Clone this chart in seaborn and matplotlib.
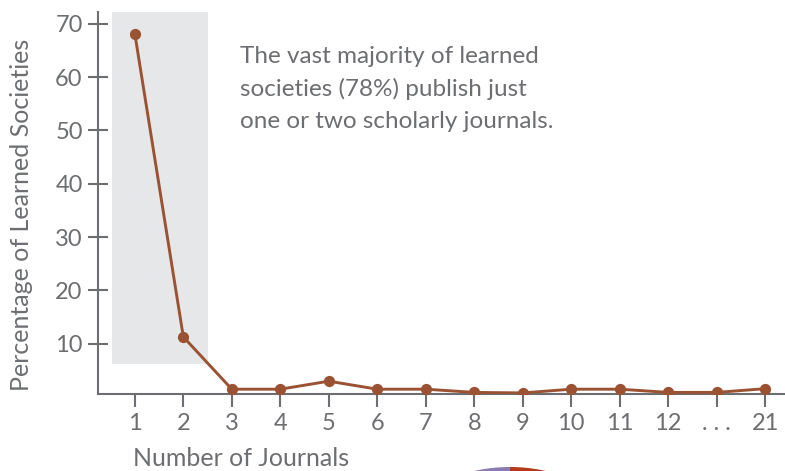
import matplotlib
matplotlib.use("Agg")
import matplotlib.pyplot as plt
import seaborn as sns
import pandas as pd
from matplotlib.patches import Wedge, Rectangle

categories = ["1", "2", "3", "4", "5", "6", "7", "8", "9", "10", "11", "12", ". . .", "21"]
percentages = [68.1, 11.3, 1.5, 1.5, 3.0, 1.5, 1.5, 0.9, 0.8, 1.5, 1.5, 0.9, 0.9, 1.6]
annotation = "The vast majority of learned\nsocieties (78%) publish just\none or two scholarly journals."
x_label = "Number of Journals"
y_label = "Percentage of Learned Societies"
y_ticks = [10, 20, 30, 40, 50, 60, 70]

sns.set_theme(style="white")
plt.rcParams["font.family"] = ["Lato", "DejaVu Sans"]

GREY = "#6d6e71"
BROWN = "#9a5232"

df = pd.DataFrame({"journals": categories, "pct": percentages})

fig = plt.figure(figsize=(7.85, 4.71), dpi=100)
W, H = 785, 471
ax = fig.add_axes([98 / W, 1 - 394 / H, 1 - 98 / W, (394 - 12) / H])

# shaded region behind first two categories
ax.add_patch(Rectangle((-0.47, 6.25), 1.98, 72.2 - 6.25, facecolor="#e6e7e8",
                       edgecolor="none", zorder=0))

sns.pointplot(data=df, x="journals", y="pct", order=categories, color=BROWN,
              markers="o", linestyles="-", ax=ax, markersize=6.5,
              linewidth=2.1, zorder=3)

ax.set_xlim(-0.76, 13.41)
ax.set_ylim(0.6, 72.2)
ax.set_yticks(y_ticks)
ax.set_yticklabels([str(t) for t in y_ticks])
ax.set_xticks(range(len(categories)))
ax.set_xticklabels(categories)

for s in ["top", "right"]:
    ax.spines[s].set_visible(False)
for s in ["left", "bottom"]:
    ax.spines[s].set_color(GREY)
    ax.spines[s].set_linewidth(1.5)

ax.tick_params(axis="y", direction="inout", length=14, width=1.5, color=GREY,
               labelcolor=GREY, labelsize=17, pad=4, left=True)
ax.tick_params(axis="x", direction="out", length=9, width=1.5, color=GREY,
               labelcolor=GREY, labelsize=17, pad=5, bottom=True)
ax.set_xlabel("")
ax.set_ylabel("")
ax.grid(False)
ax.set_facecolor("none")

fig.text(22 / W, 1 - 215 / H, y_label, rotation=90, ha="center", va="center",
         color=GREY, fontsize=18)
fig.text(133 / W, 1 - 459 / H, x_label, ha="left", va="center",
         color=GREY, fontsize=18)
fig.text(240 / W, 1 - 89 / H, annotation, ha="left", va="center", color=GREY,
         fontsize=17.5, linespacing=1.62)

# partial pie peeking in at the bottom
pax = fig.add_axes([0, 0, 1, 1], facecolor="none")
pax.set_xlim(0, W)
pax.set_ylim(H, 0)
pax.axis("off")
pax.add_patch(Wedge((510, 630), 163, 180, 270, facecolor="#8c79b0", edgecolor="none"))
pax.add_patch(Wedge((510, 630), 163, 270, 360, facecolor="#b23a1a", edgecolor="none"))

fig.savefig("out.png", dpi=100)
